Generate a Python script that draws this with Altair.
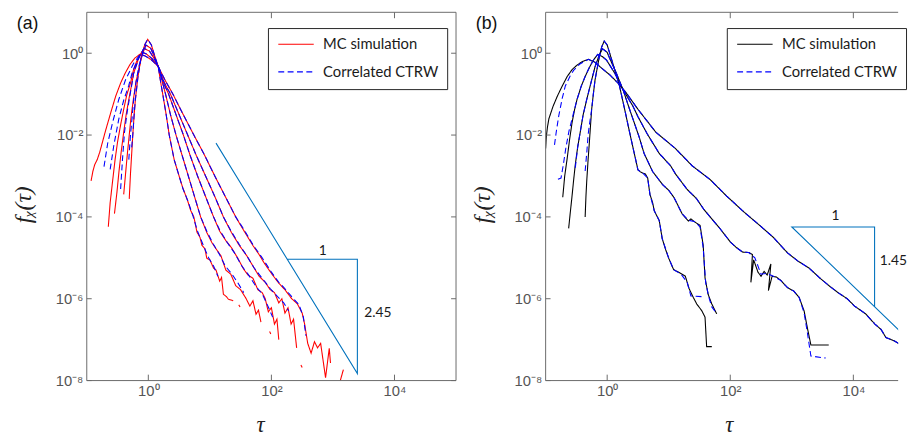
import altair as alt
import pandas as pd

SERIES = ["MC simulation", "Correlated CTRW"]

# ---------------- panel (a): points are (log10 tau, log10 f)
a_A_mc = [(-0.93,-3.12),(-0.90,-2.88),(-0.87,-2.72),(-0.83,-2.6),(-0.79,-2.42),(-0.75,-2.2),(-0.70,-1.92),(-0.61,-1.45),(-0.53,-1.05),(-0.45,-0.73),(-0.38,-0.5),(-0.30,-0.28),(-0.22,-0.12),(-0.14,-0.03),(-0.06,-0.06),(0.04,-0.15),(0.16,-0.32),(0.28,-0.68),(0.40,-1.0),(0.55,-1.45),(0.74,-2.0),(0.90,-2.45),(1.08,-3.0),(1.25,-3.5),(1.42,-4.0),(1.55,-4.33),(1.70,-4.7),(1.80,-4.92),(1.88,-5.12),(2.00,-5.38),(2.12,-5.62),(2.22,-5.78),(2.33,-6.0),(2.42,-6.12),(2.50,-6.35),(2.54,-6.62),(2.59,-7.09),(2.645,-7.33),(2.70,-7.05),(2.75,-7.2),(2.80,-7.09),(2.88,-7.93),(2.94,-7.21),(2.96,-7.57)]
a_A_mc_tail = [(3.11,-8.05),(3.17,-7.73)]
a_A_ctrw = [(-0.72,-2.77),(-0.66,-2.2),(-0.58,-1.69),(-0.48,-1.13),(-0.37,-0.65),(-0.24,-0.25),(-0.14,-0.04),(-0.06,-0.06),(0.04,-0.15),(0.16,-0.32),(0.28,-0.68),(0.40,-1.0),(0.55,-1.45),(0.74,-2.0),(0.90,-2.45),(1.08,-3.0),(1.25,-3.5),(1.42,-4.0),(1.55,-4.3),(1.70,-4.68),(1.85,-5.0),(2.0,-5.35),(2.12,-5.6),(2.2,-5.72),(2.33,-5.95),(2.45,-6.15),(2.52,-6.45),(2.56,-6.9)]
a_B_mc = [(-0.65,-4.24),(-0.62,-3.65),(-0.58,-3.12),(-0.54,-2.6),(-0.50,-2.17),(-0.45,-1.75),(-0.40,-1.37),(-0.35,-1.02),(-0.29,-0.73),(-0.24,-0.4),(-0.19,-0.2),(-0.106,0.03),(-0.03,-0.02),(0.06,-0.13),(0.16,-0.32),(0.26,-0.72),(0.36,-1.0),(0.50,-1.5),(0.64,-2.0),(0.78,-2.5),(0.93,-3.0),(1.08,-3.5),(1.22,-4.0),(1.35,-4.38),(1.48,-4.7),(1.6,-4.95),(1.7,-5.2),(1.8,-5.45),(1.9,-5.6),(1.98,-5.78),(2.05,-5.85),(2.12,-6.1),(2.17,-6.0),(2.22,-6.35),(2.27,-6.22),(2.32,-6.62),(2.36,-6.5),(2.41,-7.2)]
a_B_ctrw = [(-0.62,-2.84),(-0.56,-2.25),(-0.48,-1.61),(-0.40,-1.15),(-0.32,-0.8),(-0.265,-0.49),(-0.18,-0.18),(-0.106,0.03),(-0.03,-0.02),(0.06,-0.13),(0.16,-0.32),(0.26,-0.72),(0.36,-1.0),(0.50,-1.5),(0.64,-2.0),(0.78,-2.5),(0.93,-3.0),(1.08,-3.5),(1.22,-4.0),(1.35,-4.36),(1.48,-4.68),(1.6,-4.95),(1.72,-5.25),(1.85,-5.5),(1.98,-5.75),(2.1,-5.95),(2.2,-6.1),(2.28,-6.3)]
a_C_mc = [(-0.55,-3.92),(-0.51,-3.4),(-0.476,-2.88),(-0.44,-2.4),(-0.40,-1.93),(-0.36,-1.5),(-0.317,-1.13),(-0.275,-0.8),(-0.238,-0.49),(-0.159,-0.13),(-0.07,0.12),(0.02,0.05),(0.09,-0.12),(0.16,-0.32),(0.24,-0.7),(0.33,-1.0),(0.45,-1.5),(0.57,-2.0),(0.68,-2.5),(0.80,-3.0),(0.93,-3.5),(1.06,-4.0),(1.16,-4.35),(1.26,-4.58),(1.35,-4.75),(1.45,-5.0),(1.55,-5.28),(1.62,-5.42),(1.70,-5.5),(1.78,-5.78),(1.85,-5.85),(1.90,-6.0),(1.95,-6.32),(2.0,-6.22),(2.05,-6.62),(2.09,-6.5),(2.12,-7.0)]
a_C_ctrw = [(-0.45,-3.32),(-0.42,-2.6),(-0.387,-1.93),(-0.34,-1.4),(-0.30,-1.05),(-0.238,-0.49),(-0.15,-0.1),(-0.07,0.12),(0.02,0.05),(0.09,-0.12),(0.16,-0.32),(0.24,-0.7),(0.33,-1.0),(0.45,-1.5),(0.57,-2.0),(0.68,-2.5),(0.80,-3.0),(0.93,-3.5),(1.06,-4.0),(1.16,-4.32),(1.28,-4.62),(1.4,-4.88),(1.52,-5.2),(1.62,-5.4),(1.75,-5.7),(1.85,-5.88),(1.95,-6.2),(2.02,-6.45)]
a_D_mc = [(-0.40,-3.45),(-0.37,-2.95),(-0.34,-2.45),(-0.31,-2.0),(-0.28,-1.55),(-0.24,-1.1),(-0.20,-0.7),(-0.15,-0.35),(-0.10,-0.05),(-0.04,0.2),(0.04,0.12),(0.10,-0.1),(0.16,-0.32),(0.22,-0.65),(0.28,-1.0),(0.36,-1.5),(0.45,-2.0),(0.55,-2.5),(0.65,-3.0),(0.75,-3.5),(0.85,-4.0),(0.95,-4.38),(1.03,-4.62),(1.1,-4.78),(1.18,-4.95),(1.26,-5.3),(1.34,-5.4),(1.42,-5.68),(1.5,-5.78),(1.59,-6.0),(1.65,-6.18),(1.7,-6.05),(1.75,-6.38),(1.79,-6.28),(1.83,-6.57)]
a_D_ctrw = [(-0.317,-2.6),(-0.29,-2.0),(-0.265,-1.6),(-0.238,-1.13),(-0.2,-0.7),(-0.15,-0.3),(-0.1,-0.05),(-0.04,0.2),(0.04,0.12),(0.10,-0.1),(0.16,-0.32),(0.22,-0.65),(0.28,-1.0),(0.36,-1.5),(0.45,-2.0),(0.55,-2.5),(0.65,-3.0),(0.75,-3.5),(0.85,-4.0),(0.95,-4.35),(1.05,-4.65),(1.15,-4.9),(1.25,-5.2),(1.35,-5.38),(1.45,-5.6),(1.55,-5.85)]
a_E_mc = [(-0.31,-3.56),(-0.29,-2.95),(-0.27,-2.45),(-0.25,-1.95),(-0.23,-1.5),(-0.21,-1.13),(-0.17,-0.6),(-0.12,-0.12),(-0.06,0.2),(-0.01,0.34),(0.05,0.2),(0.10,-0.05),(0.16,-0.32),(0.20,-0.7),(0.24,-1.05),(0.29,-1.5),(0.34,-2.0),(0.42,-2.6),(0.50,-3.0),(0.56,-3.29),(0.64,-3.61),(0.69,-3.85),(0.74,-4.0),(0.79,-4.37),(0.84,-4.5),(0.87,-4.69),(0.92,-4.78),(0.95,-5.01),(1.0,-5.05),(1.06,-5.25),(1.1,-5.3),(1.16,-5.57),(1.19,-5.48),(1.22,-5.89),(1.27,-5.95),(1.3,-6.01),(1.38,-6.05)]
a_E_ctrw = [(-0.27,-2.3),(-0.25,-1.95),(-0.23,-1.5),(-0.21,-1.13),(-0.17,-0.6),(-0.12,-0.12),(-0.06,0.2),(-0.01,0.34),(0.05,0.2),(0.10,-0.05),(0.16,-0.32),(0.20,-0.7),(0.24,-1.05),(0.29,-1.5),(0.34,-2.0),(0.42,-2.6),(0.50,-3.0),(0.56,-3.3),(0.64,-3.6),(0.72,-3.95),(0.8,-4.35),(0.9,-4.72),(0.98,-5.0),(1.06,-5.2),(1.13,-5.45)]
a_mc_bits = [[(1.47,-6.15),(1.49,-6.2)], [(1.97,-6.8),(1.99,-6.86)], [(2.48,-7.62),(2.5,-7.68)]]

a_tri = [(1.10,-2.197),(3.397,-7.83),(3.397,-5.036),(2.259,-5.036)]
a_labels = [("1", 2.835, -4.83, "center"), ("2.45", 3.51, -6.35, "left")]

# ---------------- panel (b)
b_W1_mc = [(-1.0,-2.33),(-0.99,-2.05),(-0.97,-1.8),(-0.947,-1.6),(-0.88,-1.3),(-0.81,-1.05),(-0.73,-0.8),(-0.65,-0.57),(-0.57,-0.4),(-0.49,-0.29),(-0.40,-0.2),(-0.305,-0.15),(-0.2,-0.22),(-0.117,-0.33),(0.043,-0.53),(0.177,-0.73),(0.31,-0.97),(0.5,-1.37),(0.79,-1.93),(1.11,-2.33),(1.38,-2.75),(1.675,-3.09),(1.94,-3.49),(2.23,-3.89),(2.48,-4.21),(2.7,-4.5),(2.93,-4.88),(3.1,-5.08),(3.28,-5.25),(3.46,-5.5),(3.62,-5.7),(3.75,-5.85),(3.9,-6.0),(4.02,-6.18),(4.2,-6.37),(4.35,-6.62),(4.45,-6.75),(4.53,-6.95),(4.65,-7.02),(4.77,-7.12),(4.85,-7.25),(4.93,-7.35),(5.0,-7.42)]
b_W1_ctrw = [(-0.856,-2.24),(-0.83,-1.95),(-0.787,-1.53),(-0.73,-1.1),(-0.68,-0.8),(-0.6,-0.55),(-0.546,-0.42),(-0.45,-0.27),(-0.305,-0.15),(-0.2,-0.22),(-0.117,-0.33),(0.043,-0.53),(0.177,-0.73),(0.31,-0.97),(0.5,-1.37),(0.79,-1.93),(1.11,-2.33),(1.38,-2.75),(1.675,-3.09),(1.94,-3.49),(2.23,-3.89),(2.48,-4.21),(2.7,-4.5),(2.93,-4.88),(3.1,-5.08),(3.28,-5.25),(3.46,-5.5),(3.62,-5.7),(3.75,-5.85),(3.9,-6.0),(4.02,-6.18),(4.2,-6.37),(4.35,-6.62),(4.45,-6.75),(4.53,-6.95),(4.65,-7.02),(4.77,-7.12),(4.85,-7.25),(4.93,-7.35),(5.0,-7.42)]
b_W2_mc = [(-0.722,-3.52),(-0.69,-3.0),(-0.65,-2.57),(-0.61,-2.1),(-0.57,-1.69),(-0.53,-1.38),(-0.49,-1.13),(-0.42,-0.8),(-0.358,-0.57),(-0.29,-0.35),(-0.225,-0.17),(-0.155,-0.03),(-0.08,-0.08),(-0.01,-0.17),(0.124,-0.49),(0.257,-0.89),(0.417,-1.29),(0.5,-1.55),(0.65,-1.97),(0.846,-2.45),(1.03,-2.75),(1.11,-2.95),(1.3,-3.33),(1.45,-3.55),(1.568,-3.81),(1.7,-4.05),(1.835,-4.29),(2.0,-4.61),(2.1,-4.75),(2.2,-4.86),(2.3,-4.87),(2.36,-4.92),(2.335,-5.6),(2.38,-5.05),(2.45,-5.35),(2.5,-5.45),(2.55,-5.33),(2.6,-5.42),(2.66,-5.15),(2.62,-5.8),(2.68,-5.45),(2.75,-5.47),(2.82,-5.55),(2.93,-5.73),(3.03,-5.81),(3.12,-5.97),(3.2,-6.3),(3.25,-6.69),(3.31,-7.13),(3.6,-7.13)]
b_W2_ctrw = [(-0.8,-3.08),(-0.75,-3.05),(-0.71,-2.7),(-0.67,-2.3),(-0.62,-1.9),(-0.57,-1.6),(-0.49,-1.13),(-0.42,-0.8),(-0.358,-0.57),(-0.29,-0.35),(-0.225,-0.17),(-0.155,-0.03),(-0.08,-0.08),(-0.01,-0.17),(0.124,-0.49),(0.257,-0.89),(0.417,-1.29),(0.5,-1.55),(0.65,-1.97),(0.846,-2.45),(1.03,-2.75),(1.11,-2.95),(1.3,-3.33),(1.45,-3.55),(1.568,-3.81),(1.7,-4.05),(1.835,-4.29),(2.0,-4.61),(2.1,-4.75),(2.2,-4.86),(2.3,-4.87),(2.4,-5.0),(2.5,-5.4),(2.6,-5.38),(2.7,-5.45),(2.82,-5.55),(2.93,-5.73),(3.03,-5.81),(3.12,-5.97),(3.2,-6.35),(3.25,-6.8),(3.31,-7.4),(3.55,-7.45)]
b_W3_mc = [(-0.626,-4.28),(-0.6,-3.9),(-0.573,-3.52),(-0.545,-3.1),(-0.518,-2.72),(-0.48,-2.3),(-0.438,-1.93),(-0.39,-1.5),(-0.332,-1.13),(-0.26,-0.7),(-0.197,-0.33),(-0.13,-0.05),(-0.075,0.11),(0.0,0.02),(0.043,-0.13),(0.15,-0.49),(0.257,-0.89),(0.364,-1.37),(0.44,-1.7),(0.52,-2.05),(0.6,-2.45),(0.738,-2.89),(0.9,-3.21),(1.0,-3.35),(1.087,-3.53),(1.16,-3.75),(1.22,-3.93),(1.27,-4.02),(1.32,-4.1),(1.36,-4.05),(1.43,-4.13),(1.51,-4.21),(1.56,-4.69),(1.59,-5.49),(1.64,-5.89),(1.7,-6.13),(1.78,-6.37)]
b_W3_ctrw = [(-0.518,-2.8),(-0.48,-2.3),(-0.438,-1.93),(-0.39,-1.5),(-0.332,-1.13),(-0.26,-0.7),(-0.197,-0.33),(-0.13,-0.05),(-0.075,0.11),(0.0,0.02),(0.043,-0.13),(0.15,-0.49),(0.257,-0.89),(0.364,-1.37),(0.44,-1.7),(0.52,-2.05),(0.6,-2.45),(0.738,-2.89),(0.9,-3.21),(1.0,-3.35),(1.087,-3.53),(1.16,-3.75),(1.22,-3.93),(1.32,-4.08),(1.43,-4.12),(1.51,-4.25),(1.56,-4.75),(1.6,-5.6),(1.65,-5.95),(1.7,-6.2),(1.76,-6.32)]
b_W4_mc = [(-0.358,-4.0),(-0.345,-3.5),(-0.332,-3.12),(-0.31,-2.6),(-0.289,-2.17),(-0.27,-1.75),(-0.252,-1.37),(-0.225,-1.0),(-0.197,-0.65),(-0.16,-0.35),(-0.128,-0.09),(-0.09,0.15),(-0.048,0.297),(0.0,0.2),(0.043,-0.01),(0.124,-0.41),(0.2,-0.8),(0.284,-1.37),(0.364,-1.93),(0.445,-2.48),(0.5,-2.85),(0.54,-2.9),(0.578,-2.93),(0.62,-2.95),(0.658,-3.05),(0.695,-3.45),(0.738,-3.65),(0.765,-3.85),(0.846,-4.09),(0.894,-4.53),(0.95,-4.8),(1.0,-5.01),(1.08,-5.29),(1.16,-5.35),(1.27,-5.45),(1.33,-5.75),(1.4,-5.97),(1.456,-6.13),(1.536,-6.29),(1.59,-6.45),(1.616,-7.17),(1.7,-7.17)]
b_W4_ctrw = [(-0.358,-2.88),(-0.33,-2.4),(-0.31,-2.0),(-0.289,-1.75),(-0.252,-1.37),(-0.225,-1.0),(-0.197,-0.65),(-0.16,-0.35),(-0.128,-0.09),(-0.09,0.15),(-0.048,0.297),(0.0,0.2),(0.043,-0.01),(0.124,-0.41),(0.2,-0.8),(0.284,-1.37),(0.364,-1.93),(0.445,-2.48),(0.5,-2.85),(0.578,-2.93),(0.658,-3.05),(0.695,-3.45),(0.765,-3.85),(0.846,-4.09),(0.894,-4.53),(1.0,-5.01),(1.08,-5.29),(1.2,-5.4),(1.3,-5.6),(1.36,-5.93),(1.55,-5.95)]

b_tri = [(4.345,-6.195),(4.345,-4.245),(3.0,-4.245),(5.0,-7.145)]
b_labels = [("1", 3.71, -3.97, "center"), ("1.45", 4.43, -5.09, "left")]

X_TICK_EXP = [0, 2, 4]
Y_TICK_EXP = [-8, -6, -4, -2, 0]

SUP = {"0": "⁰", "1": "¹", "2": "²", "3": "³", "4": "⁴", "5": "⁵", "6": "⁶", "7": "⁷", "8": "⁸", "9": "⁹", "-": "⁻"}


def sup_label(e):
    return "10" + "".join(SUP[c] for c in str(e))


def label_expr(exps):
    parts = [f"abs(log(datum.value)/LN10 - ({e})) < 0.01 ? '{sup_label(e)}'" for e in exps]
    return " : ".join(parts) + " : ''"


def rows(series, seg, pts):
    return [dict(series=series, seg=seg, i=k, tau=10 ** x, f=10 ** y) for k, (x, y) in enumerate(pts)]


def frame(mc_list, ctrw_list):
    out = []
    for n, pts in enumerate(mc_list):
        out += rows(SERIES[0], f"m{n}", pts)
    for n, pts in enumerate(ctrw_list):
        out += rows(SERIES[1], f"c{n}", pts)
    return pd.DataFrame(out)


df_a = frame([a_A_mc, a_A_mc_tail, a_B_mc, a_C_mc, a_D_mc, a_E_mc] + a_mc_bits,
             [a_A_ctrw, a_B_ctrw, a_C_ctrw, a_D_ctrw, a_E_ctrw])
df_b = frame([b_W1_mc, b_W2_mc, b_W3_mc, b_W4_mc],
             [b_W1_ctrw, b_W2_ctrw, b_W3_ctrw, b_W4_ctrw])

H = 374
PX_PER_DEC = 62.5
TICK = 6
AX_GRAY = "#6a6a6a"
LABEL_GRAY = "#555555"
Y_SCALE = alt.Scale(type="log", domain=[1e-8, 10])

xt_df = pd.DataFrame({"tau": [10.0 ** e for e in X_TICK_EXP]})
yt_df = pd.DataFrame({"f": [10.0 ** e for e in Y_TICK_EXP]})
one = pd.DataFrame({"k": [0]})


def panel(df, tri, labels, mc_color, tag, title_x, width, right_side):
    x_scale = alt.Scale(type="log", domain=[0.1, 10 ** (-1 + width / PX_PER_DEC)])
    legend = alt.Legend(
        title=None, orient="none", legendX=184, legendY=16,
        symbolType="M-1,0H5", symbolSize=144, symbolStrokeWidth=1.1,
        labelFont="Lato", labelFontSize=15, labelColor="#1a1a1a", labelOffset=32,
        padding=9, rowPadding=12, strokeColor="#262626", fillColor="white",
        cornerRadius=0, labelLimit=300,
    )
    color = alt.Color("series:N", scale=alt.Scale(domain=SERIES, range=[mc_color, "#0000ff"]), legend=legend)
    dash = alt.StrokeDash("series:N", scale=alt.Scale(domain=SERIES, range=[[1, 0], [6, 3.5]]), legend=legend)

    common = dict(labelFont="Liberation Sans", labelFontSize=15, labelColor=LABEL_GRAY,
                  ticks=False, grid=False, domain=False)
    x_axis = alt.Axis(orient="bottom", values=[10 ** e for e in X_TICK_EXP], labelExpr=label_expr(X_TICK_EXP),
                      labelPadding=3,
                      title="τ", titleFont="Liberation Serif", titleFontStyle="italic", titleFontSize=23,
                      titleFontWeight="normal", titleColor="#222222",
                      titleX=title_x, titleY=45, titleBaseline="middle", titleAlign="center", **common)
    y_axis = alt.Axis(orient="left", values=[10 ** e for e in Y_TICK_EXP], labelExpr=label_expr(Y_TICK_EXP),
                      labelPadding=4,
                      title="fᵪ(τ)", titleFont="Liberation Serif", titleFontStyle="italic", titleFontSize=24,
                      titleFontWeight="normal", titleColor="#222222", titleAngle=270,
                      titleX=-64, titleY=195, titleBaseline="middle", titleAlign="center", **common)

    def X(field="tau:Q"):
        return alt.X(field, scale=x_scale, axis=x_axis)

    def Y(field="f:Q"):
        return alt.Y(field, scale=Y_SCALE, axis=y_axis)

    def lines(series):
        return alt.Chart(df).transform_filter(alt.datum.series == series).mark_line(clip=True, strokeWidth=1.1).encode(
            x=X(), y=Y(), color=color, strokeDash=dash, detail="seg:N", order="i:Q")

    tri_df = pd.DataFrame([dict(i=k, tau=10 ** x, f=10 ** y) for k, (x, y) in enumerate(tri)])
    tri_layer = alt.Chart(tri_df).mark_line(clip=True, color="#0072BD", strokeWidth=1.1).encode(
        x=X(), y=Y(), order="i:Q")

    text_layers = []
    for t, lx, ly, al in labels:
        tdf = pd.DataFrame([dict(t=t, tau=10 ** lx, f=10 ** ly)])
        text_layers.append(alt.Chart(tdf).mark_text(align=al, baseline="middle", font="Lato", fontSize=14,
                                                     color="#1a1a1a").encode(x=X(), y=Y(), text="t:N"))

    tag_layer = alt.Chart(pd.DataFrame([dict(t=tag)])).mark_text(
        align="center", baseline="middle", font="Liberation Sans", fontSize=18, color="#111111").encode(
        x=alt.value(-60), y=alt.value(12), text="t:N")

    rule = dict(color=AX_GRAY, strokeWidth=1)
    ticks = []
    for y0, y1 in [(H, H - TICK), (0, TICK)]:
        ticks.append(alt.Chart(xt_df).mark_rule(**rule).encode(x=X(), y=alt.value(y0), y2=alt.value(y1)))
    y_tick_sides = [(0, TICK - 1)] + ([(width, width - TICK + 1)] if right_side else [])
    for x0, x1 in y_tick_sides:
        ticks.append(alt.Chart(yt_df).mark_rule(**rule).encode(y=Y(), x=alt.value(x0), x2=alt.value(x1)))

    # plot frame (box), drawn as rules on the panel edges
    box = [
        alt.Chart(one).mark_rule(**rule).encode(x=alt.value(0), y=alt.value(0), y2=alt.value(H)),
        alt.Chart(one).mark_rule(**rule).encode(y=alt.value(0), x=alt.value(0), x2=alt.value(width)),
        alt.Chart(one).mark_rule(**rule).encode(y=alt.value(H), x=alt.value(0), x2=alt.value(width)),
    ]
    if right_side:
        box.append(alt.Chart(one).mark_rule(**rule).encode(x=alt.value(width), y=alt.value(0), y2=alt.value(H)))

    return alt.layer(lines(SERIES[0]), lines(SERIES[1]), tri_layer, *ticks, *box,
                     *text_layers, tag_layer).properties(width=width, height=H)


pa = panel(df_a, a_tri, a_labels, "#ff0000", "(a)", 176, 375, True)
pb = panel(df_b, b_tri, b_labels, "#000000", "(b)", 186, 358, False)

chart = alt.hconcat(pa, pb, spacing=13).resolve_scale(color="independent", strokeDash="independent").properties(
    padding={"left": 3, "top": 0, "right": 0, "bottom": 0}, background="white"
).configure_view(stroke="transparent")

chart.save("out.html", embed_options={"renderer": "svg", "actions": False})
